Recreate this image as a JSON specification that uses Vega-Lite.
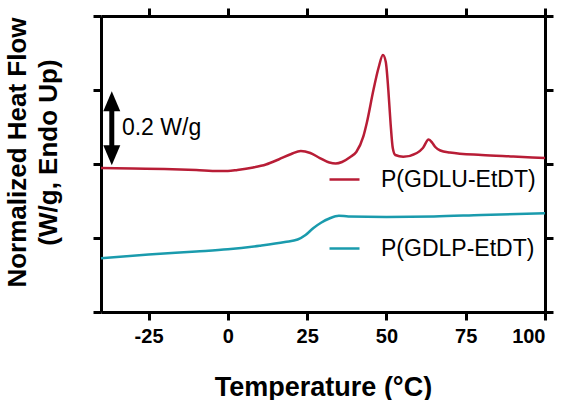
{
  "$schema": "https://vega.github.io/schema/vega-lite/v6.json",
  "width": 444,
  "height": 296,
  "autosize": {"type": "none"},
  "padding": {"left": 101, "top": 16, "right": 21, "bottom": 88},
  "background": "white",
  "config": {
    "view": {"stroke": null},
    "font": "Liberation Sans",
    "axis": {
      "grid": false,
      "domainColor": "black",
      "domainWidth": 3,
      "tickColor": "black",
      "tickWidth": 3,
      "tickSize": 8,
      "labelFont": "Liberation Sans",
      "labelFontWeight": "bold",
      "labelFontSize": 20,
      "labelColor": "black",
      "titleFont": "Liberation Sans",
      "titleFontWeight": "bold",
      "titleColor": "black"
    }
  },
  "resolve": {"axis": {"x": "independent", "y": "independent"}},
  "layer": [
    {
      "data": {
        "values": [
          {"T": -40, "hf": 0.3892, "sample": "P(GDLU-EtDT)"},
          {"T": -30, "hf": 0.3878, "sample": "P(GDLU-EtDT)"},
          {"T": -20, "hf": 0.3865, "sample": "P(GDLU-EtDT)"},
          {"T": -10, "hf": 0.3838, "sample": "P(GDLU-EtDT)"},
          {"T": -3, "hf": 0.3811, "sample": "P(GDLU-EtDT)"},
          {"T": 0, "hf": 0.3811, "sample": "P(GDLU-EtDT)"},
          {"T": 3, "hf": 0.3838, "sample": "P(GDLU-EtDT)"},
          {"T": 8, "hf": 0.3905, "sample": "P(GDLU-EtDT)"},
          {"T": 12, "hf": 0.3986, "sample": "P(GDLU-EtDT)"},
          {"T": 16, "hf": 0.4122, "sample": "P(GDLU-EtDT)"},
          {"T": 20, "hf": 0.4270, "sample": "P(GDLU-EtDT)"},
          {"T": 23, "hf": 0.4351, "sample": "P(GDLU-EtDT)"},
          {"T": 26, "hf": 0.4297, "sample": "P(GDLU-EtDT)"},
          {"T": 29, "hf": 0.4162, "sample": "P(GDLU-EtDT)"},
          {"T": 32, "hf": 0.4041, "sample": "P(GDLU-EtDT)"},
          {"T": 34, "hf": 0.4014, "sample": "P(GDLU-EtDT)"},
          {"T": 36, "hf": 0.4054, "sample": "P(GDLU-EtDT)"},
          {"T": 38.6, "hf": 0.4189, "sample": "P(GDLU-EtDT)"},
          {"T": 40.5, "hf": 0.4324, "sample": "P(GDLU-EtDT)"},
          {"T": 42.7, "hf": 0.4738, "sample": "P(GDLU-EtDT)"},
          {"T": 43.8, "hf": 0.5108, "sample": "P(GDLU-EtDT)"},
          {"T": 45.9, "hf": 0.6000, "sample": "P(GDLU-EtDT)"},
          {"T": 47.5, "hf": 0.6595, "sample": "P(GDLU-EtDT)"},
          {"T": 48.9, "hf": 0.6946, "sample": "P(GDLU-EtDT)"},
          {"T": 49.8, "hf": 0.6757, "sample": "P(GDLU-EtDT)"},
          {"T": 50.6, "hf": 0.6000, "sample": "P(GDLU-EtDT)"},
          {"T": 51.3, "hf": 0.5108, "sample": "P(GDLU-EtDT)"},
          {"T": 52, "hf": 0.4432, "sample": "P(GDLU-EtDT)"},
          {"T": 52.8, "hf": 0.4243, "sample": "P(GDLU-EtDT)"},
          {"T": 55.3, "hf": 0.4197, "sample": "P(GDLU-EtDT)"},
          {"T": 59.6, "hf": 0.4297, "sample": "P(GDLU-EtDT)"},
          {"T": 61.5, "hf": 0.4432, "sample": "P(GDLU-EtDT)"},
          {"T": 63.3, "hf": 0.4662, "sample": "P(GDLU-EtDT)"},
          {"T": 64.5, "hf": 0.4568, "sample": "P(GDLU-EtDT)"},
          {"T": 65.4, "hf": 0.4459, "sample": "P(GDLU-EtDT)"},
          {"T": 67, "hf": 0.4365, "sample": "P(GDLU-EtDT)"},
          {"T": 70, "hf": 0.4311, "sample": "P(GDLU-EtDT)"},
          {"T": 80, "hf": 0.4243, "sample": "P(GDLU-EtDT)"},
          {"T": 90, "hf": 0.4203, "sample": "P(GDLU-EtDT)"},
          {"T": 100, "hf": 0.4162, "sample": "P(GDLU-EtDT)"},
          {"T": -40, "hf": 0.1451, "sample": "P(GDLP-EtDT)"},
          {"T": -25, "hf": 0.1554, "sample": "P(GDLP-EtDT)"},
          {"T": -10, "hf": 0.1635, "sample": "P(GDLP-EtDT)"},
          {"T": 0, "hf": 0.1695, "sample": "P(GDLP-EtDT)"},
          {"T": 10, "hf": 0.1792, "sample": "P(GDLP-EtDT)"},
          {"T": 18, "hf": 0.1892, "sample": "P(GDLP-EtDT)"},
          {"T": 22, "hf": 0.1959, "sample": "P(GDLP-EtDT)"},
          {"T": 24.5, "hf": 0.2081, "sample": "P(GDLP-EtDT)"},
          {"T": 27, "hf": 0.2270, "sample": "P(GDLP-EtDT)"},
          {"T": 29.5, "hf": 0.2419, "sample": "P(GDLP-EtDT)"},
          {"T": 32, "hf": 0.2527, "sample": "P(GDLP-EtDT)"},
          {"T": 35, "hf": 0.2603, "sample": "P(GDLP-EtDT)"},
          {"T": 38, "hf": 0.2581, "sample": "P(GDLP-EtDT)"},
          {"T": 50, "hf": 0.2568, "sample": "P(GDLP-EtDT)"},
          {"T": 65, "hf": 0.2581, "sample": "P(GDLP-EtDT)"},
          {"T": 80, "hf": 0.2622, "sample": "P(GDLP-EtDT)"},
          {"T": 100, "hf": 0.2668, "sample": "P(GDLP-EtDT)"}
        ]
      },
      "mark": {"type": "line", "strokeWidth": 2.5, "interpolate": "monotone"},
      "encoding": {
        "x": {
          "field": "T", "type": "quantitative",
          "scale": {"domain": [-40, 100], "nice": false, "zero": false},
          "axis": {
            "orient": "bottom",
            "values": [-25, 0, 25, 50, 75, 100],
            "labelExpr": "toString(datum.value)",
            "labelPadding": 6,
            "title": "Temperature (°C)",
            "titleFontSize": 27,
            "titleY": 83,
            "titleBaseline": "alphabetic"
          }
        },
        "y": {
          "field": "hf", "type": "quantitative",
          "scale": {"domain": [0, 0.8], "nice": false, "zero": false},
          "axis": {
            "orient": "left",
            "values": [0, 0.2, 0.4, 0.6, 0.8],
            "labels": false,
            "title": ["Normalized Heat Flow", "(W/g, Endo Up)"],
            "titleFontSize": 26,
            "titleLineHeight": 31,
            "titleAngle": -90,
            "titleAlign": "center",
            "titleBaseline": "top",
            "titleX": -97,
            "titleY": 136
          }
        },
        "color": {
          "field": "sample", "type": "nominal",
          "scale": {
            "domain": ["P(GDLU-EtDT)", "P(GDLP-EtDT)"],
            "range": ["#b81d36", "#1a9bad"]
          },
          "legend": {
            "orient": "none",
            "title": null,
            "legendX": 227,
            "legendY": 147,
            "padding": 0,
            "symbolType": "stroke",
            "symbolSize": 900,
            "symbolStrokeWidth": 2.5,
            "labelFont": "Liberation Sans",
            "labelFontSize": 23,
            "labelColor": "black",
            "labelOffset": 20,
            "rowPadding": 40,
            "labelLimit": 400
          }
        }
      }
    },
    {
      "data": {"values": [{"T": -36.6, "lo": 0.4235, "hi": 0.5694}]},
      "mark": {"type": "rule", "strokeWidth": 5, "color": "black"},
      "encoding": {
        "x": {
          "field": "T", "type": "quantitative",
          "axis": {"orient": "top", "values": [-25, 0, 25, 50, 75, 100], "labels": false, "title": null}
        },
        "y": {
          "field": "lo", "type": "quantitative",
          "axis": {"orient": "right", "values": [0, 0.2, 0.4, 0.6, 0.8], "labels": false, "title": null}
        },
        "y2": {"field": "hi"}
      }
    },
    {
      "data": {
        "values": [
          {"T": -36.6, "hf": 0.5694, "head": "up"},
          {"T": -36.6, "hf": 0.4235, "head": "down"}
        ]
      },
      "mark": {"type": "point", "filled": true, "opacity": 1, "size": 400, "color": "black"},
      "encoding": {
        "x": {"field": "T", "type": "quantitative", "axis": null},
        "y": {"field": "hf", "type": "quantitative", "axis": null},
        "shape": {
          "field": "head", "type": "nominal",
          "scale": {"domain": ["up", "down"], "range": ["M-0.85,1L0,-1L0.85,1Z", "M-0.85,-1L0,1L0.85,-1Z"]},
          "legend": null
        }
      }
    },
    {
      "data": {"values": [{"T": -33.4, "hf": 0.4964, "label": "0.2 W/g"}]},
      "mark": {"type": "text", "align": "left", "baseline": "middle", "fontSize": 23, "font": "Liberation Sans", "color": "black"},
      "encoding": {
        "x": {"field": "T", "type": "quantitative", "axis": null},
        "y": {"field": "hf", "type": "quantitative", "axis": null},
        "text": {"field": "label"}
      }
    }
  ]
}
